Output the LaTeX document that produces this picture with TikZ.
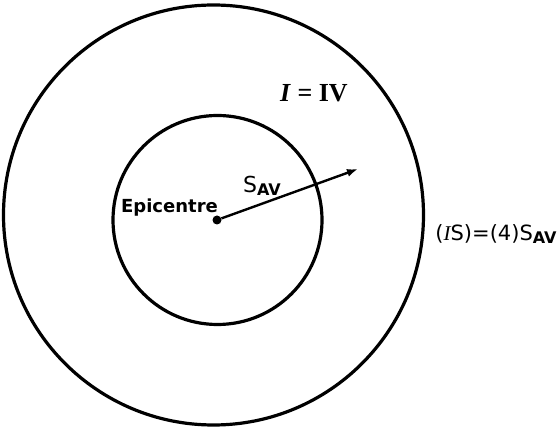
\documentclass[tikz,border=0pt]{standalone}
\usepackage{fontspec}
\setmainfont{DejaVu Sans}
\newfontfamily\romfont{Liberation Serif}
\usetikzlibrary{positioning}
\usetikzlibrary{arrows.meta}

\tikzset{
  ring/.style={line width=3.2pt},
  lbl/.style={inner sep=0pt},
}
\newcommand{\sav}[2]{S\raisebox{-0.3ex}{\fontsize{#1}{#2}\selectfont\bfseries AV}}

\begin{document}
\begin{tikzpicture}[x=1pt,y=-1pt]
            \useasboundingbox (0,0) rectangle (560,427);
            \draw[ring] (213.5,215) circle (210pt);
            \draw[ring] (217.5,220) circle (104.5pt);

            \node[circle,fill,inner sep=0pt,minimum size=9pt] (epi) at (217,220) {};
            \coordinate (tip) at (358,169);
            \draw[line width=2.4pt,-{Latex[length=11pt,width=8pt]}] (epi) -- (tip);

            \node[lbl,font=\fontsize{18}{20}\selectfont\bfseries] (epilab) at (169.5,208) {Epicentre};
            \node[lbl,font=\fontsize{22}{24}\selectfont] (arrlab) at (262,186) {\sav{16}{18}};
            \node[lbl,font=\fontsize{26}{28}\selectfont\romfont\bfseries] (intens) at (314,93) {\textit{I} = IV};
            \node[lbl,font=\fontsize{21}{24}\selectfont] (islab) at (496,234) {({\romfont\itshape I}S)=(4)\sav{16}{18}};
    \end{tikzpicture}
\end{document}
